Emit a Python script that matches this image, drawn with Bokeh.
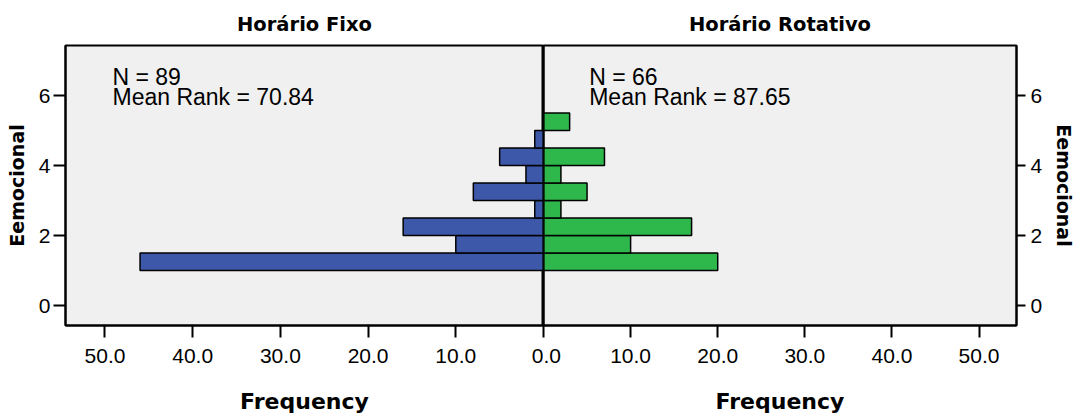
from bokeh.plotting import figure
from bokeh.layouts import row
from bokeh.models import (Range1d, FixedTicker, Span, Label, ColumnDataSource,
                          PrintfTickFormatter)
from bokeh.embed import file_html
from bokeh.resources import INLINE

# ---------------- data ----------------
bin_lower = [1.0, 1.5, 2.0, 2.5, 3.0, 3.5, 4.0, 4.5, 5.0]
bin_width = 0.5
fixo_counts = [46, 10, 16, 1, 8, 2, 5, 1, 0]
rotativo_counts = [20, 10, 17, 2, 5, 2, 7, 0, 3]
groups = ["Horário Fixo", "Horário Rotativo"]
group_n = [89, 66]
mean_ranks = [70.84, 87.65]
x_ticks = [0, 10, 20, 30, 40, 50]
y_ticks = [0, 2, 4, 6]
variable_label = "Eemocional"
x_label = "Frequency"

# ---------------- layout ----------------
H = 419
TOP, BOTTOM = 45, 94
Y0, Y1 = -0.571, 7.429
BLUE = "#3d58a9"
GREEN = "#2eb84b"
XMAX_L, XMAX_R = 54.5, 54.3


def style_axis(ax, tick_out, standoff, size):
    ax.axis_line_color = "black"
    ax.axis_line_width = 2
    ax.major_tick_line_color = "black"
    ax.major_tick_line_width = 2
    ax.major_tick_in = 0
    ax.major_tick_out = tick_out
    ax.minor_tick_line_color = None
    ax.major_label_text_color = "black"
    ax.major_label_text_font = "Liberation Sans"
    ax.major_label_text_font_style = "normal"
    ax.major_label_text_font_size = size
    ax.major_label_standoff = standoff
    ax.axis_label_text_font = "DejaVu Sans"
    ax.axis_label_text_font_style = "bold"
    ax.axis_label_text_color = "black"


def make_panel(side, counts, color, title, n, mean_rank):
    if side == "left":
        xr = Range1d(XMAX_L, 0)
        kw = dict(width=543, min_border_left=65, min_border_right=0)
        y_axis_location = "left"
    else:
        xr = Range1d(0, XMAX_R)
        kw = dict(width=535, min_border_left=0, min_border_right=59)
        y_axis_location = "right"
    p = figure(height=H, output_backend="svg", toolbar_location=None,
               x_range=xr, y_range=Range1d(Y0, Y1),
               min_border_top=TOP, min_border_bottom=BOTTOM,
               y_axis_location=y_axis_location, **kw)
    p.background_fill_color = "#f0f0f0"
    p.border_fill_color = "white"
    p.outline_line_color = "black"
    p.outline_line_width = 2
    p.xgrid.visible = False
    p.ygrid.visible = False

    p.title.text = title
    p.title.align = "center"
    p.title.text_font = "DejaVu Sans"
    p.title.text_font_style = "bold"
    p.title.text_font_size = "19.5px"
    p.title.text_color = "black"
    p.title.standoff = 20

    src = ColumnDataSource(dict(
        y=[b + bin_width / 2 for b, c in zip(bin_lower, counts) if c > 0],
        v=[c for c in counts if c > 0]))
    p.hbar(y="y", left=0, right="v", height=bin_width, source=src,
           fill_color=color, line_color="black", line_width=1.5)
    p.add_layout(Span(location=0, dimension="height", line_color="black", line_width=2))

    xa = p.xaxis[0]
    xa.ticker = FixedTicker(ticks=x_ticks)
    xa.formatter = PrintfTickFormatter(format="%.1f")
    # the shared "0.0" label is split across the two panels at the centre line
    xa.major_label_overrides = {0: "0"} if side == "left" else {0: ".0"}
    style_axis(xa, 12, 11, "21px")
    xa.axis_label = x_label
    xa.axis_label_text_font_size = "22px"
    xa.axis_label_standoff = 23

    ya = p.yaxis[0]
    ya.ticker = FixedTicker(ticks=y_ticks)
    if side == "left":
        style_axis(ya, 12, 3, "21px")
    else:
        style_axis(ya, 9, 5, "21px")
    ya.axis_label = variable_label
    ya.axis_label_text_font_size = "19px"
    ya.axis_label_standoff = 8

    tx = XMAX_L * (1 - 47 / 478) if side == "left" else XMAX_R * 46 / 476
    for text, base in ((f"N = {n}", 76), (f"Mean Rank = {mean_rank:.2f}", 96)):
        p.add_layout(Label(x=tx, y=Y1 - (base - TOP) / 35, text=text,
                           text_align="left", text_baseline="alphabetic",
                           text_font="Liberation Sans", text_font_size="23px",
                           text_color="black"))
    return p


left = make_panel("left", fixo_counts, BLUE, groups[0], group_n[0], mean_ranks[0])
right = make_panel("right", rotativo_counts, GREEN, groups[1], group_n[1], mean_ranks[1])

layout = row(left, right, spacing=0)
open("out.html", "w").write(file_html(layout, INLINE))
